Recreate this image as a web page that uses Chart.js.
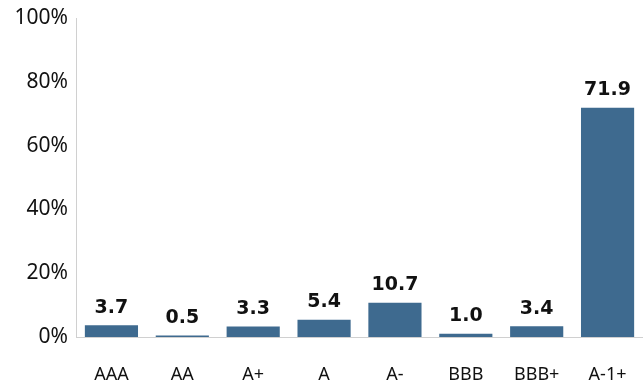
<!DOCTYPE html>
<html>
<head>
<meta charset="utf-8">
<script src="https://cdn.jsdelivr.net/npm/chart.js@4"></script>
<style>
    html, body { margin: 0; padding: 0; background: #fff; }
    #wrap { width: 643px; height: 386px; }
</style>
</head>
<body>
<div id="wrap"><canvas id="ratingChart" width="643" height="386"></canvas></div>
<script>
const ratings = ["AAA", "AA", "A+", "A", "A-", "BBB", "BBB+", "A-1+"];
const shares = [3.7, 0.5, 3.3, 5.4, 10.7, 1.0, 3.4, 71.9];
const yTicks = [0, 20, 40, 60, 80, 100];

const barColor = "#3e6a8f";
const axisColor = "#d0d0d0";

// value labels above each bar
const valueLabels = {
    id: "valueLabels",
    afterDatasetsDraw(chart) {
        const ctx = chart.ctx;
        const meta = chart.getDatasetMeta(0);
        ctx.save();
        ctx.font = "bold 19px 'DejaVu Sans'";
        ctx.fillStyle = "#111";
        ctx.textAlign = "center";
        ctx.textBaseline = "bottom";
        meta.data.forEach((bar, i) => {
            ctx.fillText(shares[i].toFixed(1), bar.x, bar.y - 8);
        });
        ctx.restore();
    }
};

new Chart(document.getElementById("ratingChart"), {
    type: "bar",
    data: {
        labels: ratings,
        datasets: [{
            data: shares,
            backgroundColor: barColor,
            borderWidth: 0,
            barPercentage: 0.75,
            categoryPercentage: 1.0
        }]
    },
    options: {
        responsive: false,
        maintainAspectRatio: false,
        animation: false,
        layout: { padding: { top: 18, right: 0, bottom: 0, left: 0 } },
        plugins: {
            legend: { display: false },
            tooltip: { enabled: false }
        },
        scales: {
            x: {
                grid: { display: false },
                border: { color: axisColor, width: 1 },
                afterFit(scale) {
                    scale.height = 49;
                    scale.paddingLeft = 0;
                    scale.paddingRight = 0;
                },
                ticks: {
                    color: "#111",
                    padding: 19,
                    font: { family: "'Noto Sans'", size: 18 }
                }
            },
            y: {
                min: 0,
                max: 100,
                afterBuildTicks(scale) {
                    scale.ticks = yTicks.map(v => ({ value: v }));
                },
                afterFit(scale) {
                    scale.width = 76;
                    scale.paddingTop = 0;
                    scale.paddingBottom = 0;
                },
                grid: { display: false },
                border: { color: axisColor, width: 1 },
                ticks: {
                    color: "#111",
                    padding: 0,
                    font: { family: "'Noto Sans'", size: 21 },
                    callback: v => v + "%"
                }
            }
        }
    },
    plugins: [valueLabels]
});
</script>
</body>
</html>
